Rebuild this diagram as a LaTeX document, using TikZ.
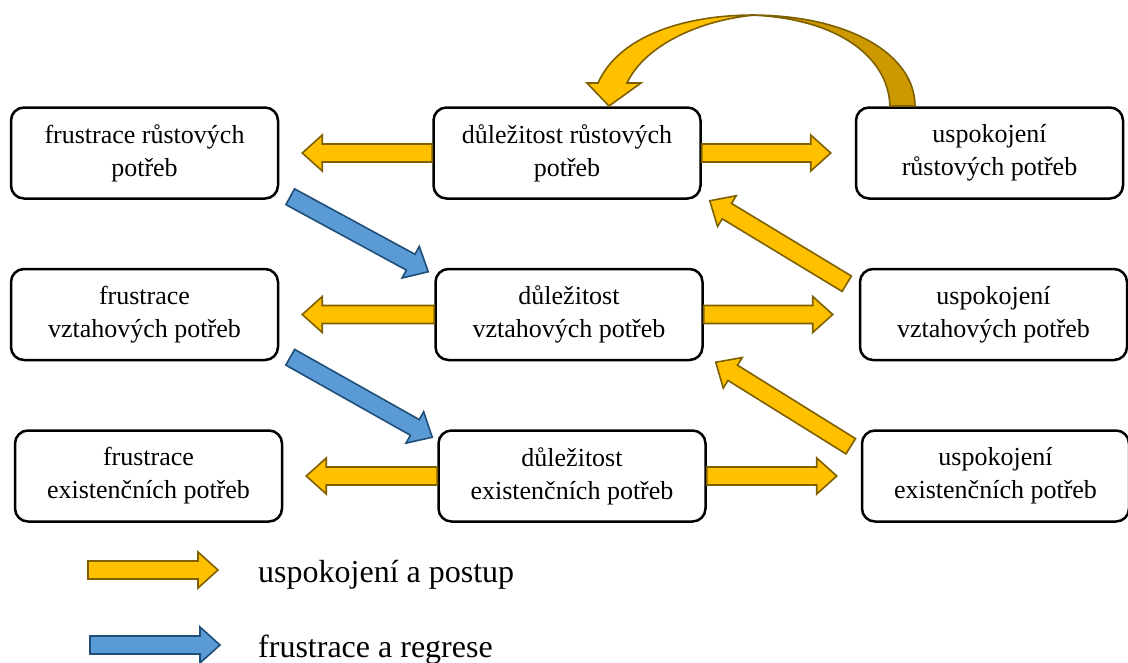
\documentclass[tikz,border=0pt]{standalone}
\usepackage{fontspec}
\setmainfont{Liberation Serif}
\usetikzlibrary{positioning,calc}

\definecolor{yfill}{HTML}{FFC000}
\definecolor{ydraw}{HTML}{7F6000}
\definecolor{ydark}{HTML}{CC9900}
\definecolor{bfill}{HTML}{5B9BD5}
\definecolor{bdraw}{HTML}{1F4E79}

\tikzset{
  box/.style={draw, line width=2.5pt, rounded corners=13pt, minimum width=267pt,
    minimum height=91pt, inner sep=0pt, align=center,
    font=\fontsize{26}{33}\selectfont},
  legtext/.style={anchor=base west, inner sep=0pt, font=\fontsize{32}{38}\selectfont},
  block/.style={line width=1.6pt, to path={
    let \p1=($(\tikztotarget)-(\tikztostart)$),
        \n1={atan2(\y1,\x1)}, \n2={veclen(\x1,\y1)-20pt} in
    ($(\tikztostart)+(\n1+90:9pt)$)
    -- ($(\tikztostart)+(\n1:\n2)+(\n1+90:9pt)$)
    -- ($(\tikztostart)+(\n1:\n2)+(\n1+90:18pt)$)
    -- (\tikztotarget)
    -- ($(\tikztostart)+(\n1:\n2)+(\n1-90:18pt)$)
    -- ($(\tikztostart)+(\n1:\n2)+(\n1-90:9pt)$)
    -- ($(\tikztostart)+(\n1-90:9pt)$) -- cycle}},
  yarrow/.style={block, fill=yfill, draw=ydraw},
  barrow/.style={block, fill=bfill, draw=bdraw},
}

\begin{document}
\begin{tikzpicture}[x=1pt, y=1pt]
  \useasboundingbox (0,0) rectangle (1128,-662);

  % boxes
  \node[box] (fr) at (144.5,-153) {frustrace růstových\\potřeb};
  \node[box, right=153pt of fr] (dr) {důležitost růstových\\potřeb};
  \node[box, right=153pt of dr] (ur) {uspokojení\\růstových potřeb};
  \node[box, below=68pt of fr] (fv) {frustrace\\vztahových potřeb};
  \node[box, right=155pt of fv] (dv) {důležitost\\vztahových potřeb};
  \node[box, right=155pt of dv] (uv) {uspokojení\\vztahových potřeb};
  \node[box, below=68pt of fv, xshift=4pt] (fe) {frustrace\\existenčních potřeb};
  \node[box, right=154pt of fe] (de) {důležitost\\existenčních potřeb};
  \node[box, right=154pt of de] (ue) {uspokojení\\existenčních potřeb};

  % curved arrow
  \draw[ydraw, fill=ydark, line width=1.6pt]
    (750,-15) .. controls (850,-15) and (915,-55) .. (915,-106)
    -- (890,-106) .. controls (888,-55) and (835,-18) .. (750,-15) -- cycle;
  \draw[ydraw, fill=yfill, line width=1.6pt, line join=miter]
    (598,-83) .. controls (618,-38) and (680,-15) .. (755,-15)
    .. controls (700,-20) and (645,-45) .. (627,-83)
    -- (641,-83) -- (609,-106) -- (587,-83) -- cycle;

  % satisfaction
  \draw[yarrow] (dr.west) to ([xshift=23pt]fr.east);
  \draw[yarrow] (dr.east) to ([xshift=-24pt]ur.west);
  \draw[yarrow] (dv.west) to ([xshift=23pt]fv.east);
  \draw[yarrow] (dv.east) to ([xshift=-26pt]uv.west);
  \draw[yarrow] (de.west) to ([xshift=23pt]fe.east);
  \draw[yarrow] (de.east) to ([xshift=-24pt]ue.west);
  \draw[yarrow] ([xshift=-12pt,yshift=-16pt]uv.north west) to ([xshift=8pt,yshift=-1pt]dr.south east);
  \draw[yarrow] ([xshift=-10pt,yshift=-17pt]ue.north west) to ([xshift=12pt,yshift=-1pt]dv.south east);

  % frustration
  \draw[barrow] ([xshift=11pt,yshift=3pt]fr.south east) to ([xshift=-6pt,yshift=-4pt]dv.north west);
  \draw[barrow] ([xshift=11pt,yshift=4pt]fv.south east) to ([xshift=-5pt,yshift=-8pt]de.north west);

  % legend
  \coordinate (ly1) at (88,-570);
  \coordinate (ly2) at (218,-570);
  \coordinate (lb1) at (90,-645);
  \coordinate (lb2) at (220,-645);
  \draw[yarrow] (ly1) to (ly2);
  \draw[barrow] (lb1) to (lb2);
  \node[legtext] (ly) at (258,-582) {uspokojení a postup};
  \node[legtext] (lb) at (258,-657) {frustrace a regrese};
\end{tikzpicture}
\end{document}
